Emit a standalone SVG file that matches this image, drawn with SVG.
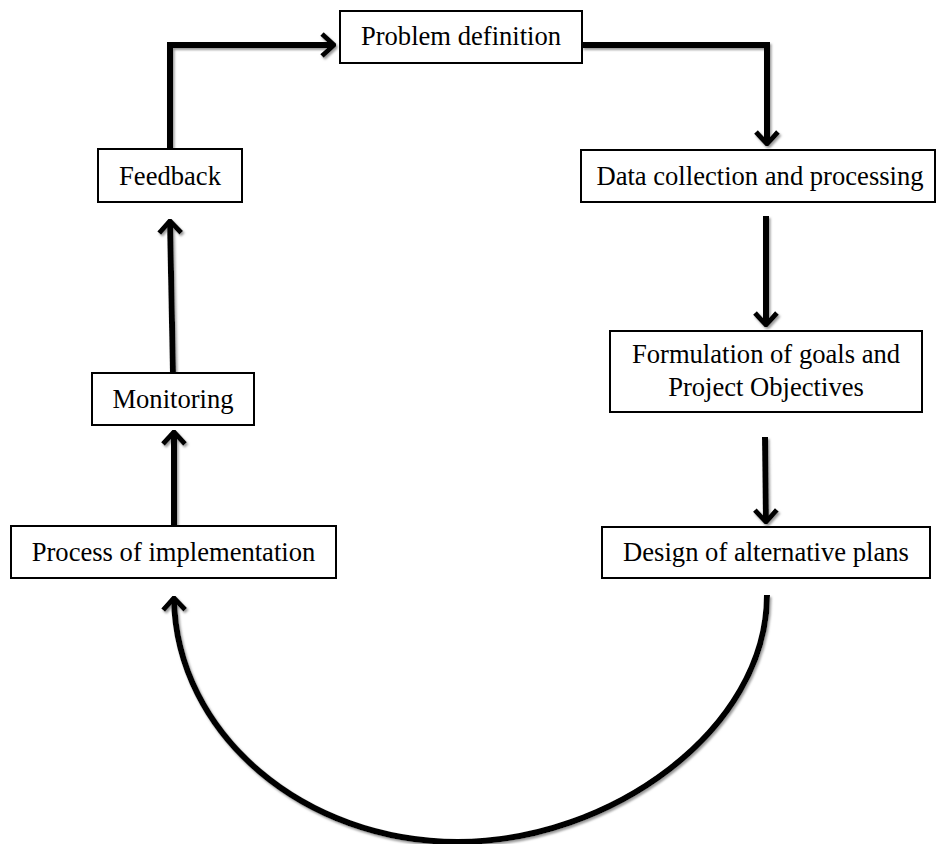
<svg xmlns="http://www.w3.org/2000/svg" width="939" height="844" viewBox="0 0 939 844">
  <style>
    .box { fill: #ffffff; stroke: #000000; stroke-width: 2; }
    .lbl { font-family: "Liberation Serif", "Times New Roman", serif; font-size: 26.6px; fill: #000000; text-anchor: middle; }
    .con { fill: none; stroke: #000000; stroke-width: 6; stroke-linejoin: miter; }
  </style>
  <defs>
    <filter id="sh" x="-10%" y="-10%" width="120%" height="120%">
      <feDropShadow dx="1.5" dy="2" stdDeviation="0.8" flood-color="#9a9a9a" flood-opacity="1"/>
    </filter>
    <marker id="arr" viewBox="-16 -14 18 28" markerWidth="18" markerHeight="28" refX="0" refY="0" orient="auto" markerUnits="userSpaceOnUse">
      <path d="M-12,-11 L0,0 L-12,11" fill="none" stroke="#000000" stroke-width="5" stroke-linejoin="miter" stroke-miterlimit="10"/>
    </marker>
  </defs>
  <rect width="939" height="844" fill="#ffffff"/>

  <g id="connectors" filter="url(#sh)">
    <path class="con" d="M170,150 L170,45 L334,45" marker-end="url(#arr)"/>
    <path class="con" d="M582,45 L767,45 L767,144" marker-end="url(#arr)"/>
    <path class="con" d="M766,216 L766,325" marker-end="url(#arr)"/>
    <path class="con" d="M765,437 L766,522" marker-end="url(#arr)"/>
    <path class="con" d="M767,595 C767,730 610,842 458,842 C305,842 176,735 174,598" marker-end="url(#arr)"/>
    <path class="con" d="M174,526 L174,432" marker-end="url(#arr)"/>
    <path class="con" d="M173,373 L170,221" marker-end="url(#arr)"/>
  </g>

  <g id="problem-definition">
    <rect class="box" x="340" y="11" width="242" height="52"/>
    <text class="lbl" x="461" y="45">Problem definition</text>
  </g>
  <g id="data-collection">
    <rect class="box" x="581" y="150" width="354" height="52"/>
    <text class="lbl" x="760" y="185">Data collection and processing</text>
  </g>
  <g id="formulation">
    <rect class="box" x="610" y="331" width="312" height="81"/>
    <text class="lbl" x="766" y="363">Formulation of goals and</text>
    <text class="lbl" x="766" y="396">Project Objectives</text>
  </g>
  <g id="design">
    <rect class="box" x="602" y="527" width="328" height="51"/>
    <text class="lbl" x="766" y="561">Design of alternative plans</text>
  </g>
  <g id="process">
    <rect class="box" x="11" y="526" width="325" height="52"/>
    <text class="lbl" x="173.5" y="561">Process of implementation</text>
  </g>
  <g id="monitoring">
    <rect class="box" x="92" y="373" width="162" height="52"/>
    <text class="lbl" x="173" y="408">Monitoring</text>
  </g>
  <g id="feedback">
    <rect class="box" x="98" y="149" width="144" height="53"/>
    <text class="lbl" x="170" y="185">Feedback</text>
  </g>
</svg>
